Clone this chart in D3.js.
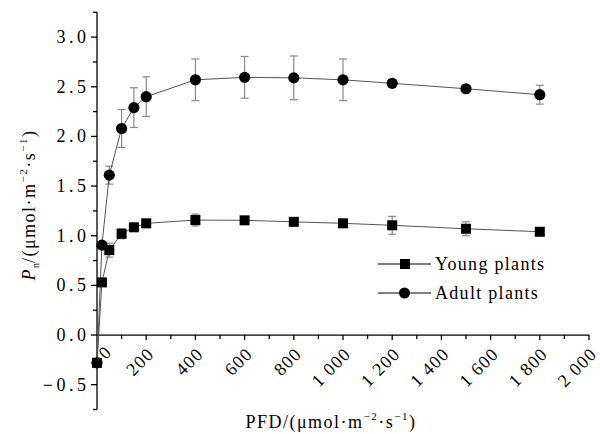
<!DOCTYPE html>
<html>
<head>
<meta charset="utf-8">
<script src="https://cdn.jsdelivr.net/npm/d3@7"></script>
<style>
  html, body { margin: 0; padding: 0; background: #fff; }
  svg { display: block; font-family: "Liberation Serif", "Times New Roman", serif; }
</style>
</head>
<body>
<svg id="chart" width="600" height="434"></svg>
<script>
// ---- data ----
const pfd = [0, 20, 50, 100, 150, 200, 400, 600, 800, 1000, 1200, 1500, 1800];
const young = [-0.28, 0.53, 0.855, 1.02, 1.085, 1.125, 1.158, 1.155, 1.14, 1.125, 1.105, 1.07, 1.04];
const youngErr = [0, 0, 0.07, 0.05, 0.04, 0.02, 0.06, 0.03, 0.02, 0.02, 0.09, 0.07, 0.02];
const adult = [-0.28, 0.905, 1.61, 2.08, 2.29, 2.40, 2.57, 2.595, 2.59, 2.57, 2.535, 2.48, 2.42];
const adultErr = [0, 0, 0.09, 0.19, 0.20, 0.20, 0.21, 0.21, 0.22, 0.21, 0.03, 0.02, 0.095];
const seriesNames = ["Young plants", "Adult plants"];
const xTickValues = [0, 200, 400, 600, 800, 1000, 1200, 1400, 1600, 1800, 2000];
const yTickValues = [-0.5, 0.0, 0.5, 1.0, 1.5, 2.0, 2.5, 3.0];

const svg = d3.select("#chart");
const x = d3.scaleLinear().domain([0, 2000]).range([97, 589]);
const y = d3.scaleLinear().domain([-0.75, 3.25]).range([409.5, 12.3]);
const x0 = x(0), y0 = y(0);

// ---- axes ----
const axG = svg.append("g").attr("stroke", "#000").attr("stroke-width", 1.3);
axG.append("line").attr("x1", x0).attr("x2", x0).attr("y1", y(3.25)).attr("y2", y(-0.75));
const yAll = d3.range(-0.75, 3.2501, 0.25);
yAll.forEach(v => {
  const major = Math.abs(Math.round(v * 2) - v * 2) < 1e-6;
  axG.append("line").attr("x1", x0).attr("x2", x0 - (major ? 6 : 4))
    .attr("y1", y(v)).attr("y2", y(v));
});
axG.append("line").attr("x1", x0).attr("x2", x(2000)).attr("y1", y0).attr("y2", y0);
d3.range(100, 2001, 100).forEach(v => {
  const major = v % 200 === 0;
  axG.append("line").attr("x1", x(v)).attr("x2", x(v))
    .attr("y1", y0).attr("y2", y0 + (major ? 5 : 4));
});

// y tick labels
svg.append("g").selectAll("text").data(yTickValues).join("text")
  .attr("x", 89.5).attr("y", d => y(d) + 6)
  .attr("text-anchor", "end")
  .attr("font-size", 18).attr("letter-spacing", "3.5px").attr("fill", "#000")
  .text(d => (d < 0 ? "\u2212" : "") + Math.abs(d).toFixed(1));

// x tick labels (rotated)
const fmtX = d => d >= 1000 ? Math.floor(d / 1000) + " " + String(d % 1000).padStart(3, "0") : String(d);
svg.append("g").selectAll("text").data(xTickValues).join("text")
  .attr("transform", d => `translate(${x(d) + (d === 0 ? 16 : 9)},${y0 + (d === 0 ? 18 : 20)}) rotate(-45)`)
  .attr("text-anchor", "end")
  .attr("font-size", 18).attr("letter-spacing", "1.2px").attr("fill", "#000")
  .text(fmtX);

// axis titles
const xt = svg.append("text").attr("x", 331).attr("y", 428).attr("text-anchor", "middle")
  .attr("font-size", 18).attr("letter-spacing", "1.5px").attr("fill", "#000");
xt.append("tspan").text("PFD/(μmol·m");
xt.append("tspan").attr("font-size", 11).attr("dy", -8).text("\u22122");
xt.append("tspan").attr("dy", 8).text("·s");
xt.append("tspan").attr("font-size", 11).attr("dy", -8).text("\u22121");
xt.append("tspan").attr("dy", 8).text(")");

const yt = svg.append("text").attr("transform", "translate(35,205) rotate(-90)")
  .attr("text-anchor", "middle").attr("font-size", 18).attr("letter-spacing", "1.5px").attr("fill", "#000");
yt.append("tspan").attr("font-style", "italic").text("P");
yt.append("tspan").attr("font-size", 10).attr("dy", 4).attr("letter-spacing", "0px").text("n");
yt.append("tspan").attr("dy", -4).text("/(μmol·m");
yt.append("tspan").attr("font-size", 11).attr("dy", -8).text("\u22122");
yt.append("tspan").attr("dy", 8).text("·s");
yt.append("tspan").attr("font-size", 11).attr("dy", -8).text("\u22121");
yt.append("tspan").attr("dy", 8).text(")");

// ---- data marks ----
const series = [
  { name: seriesNames[0], vals: young, err: youngErr, shape: "square" },
  { name: seriesNames[1], vals: adult, err: adultErr, shape: "circle" }
];
const line = d3.line().x((d, i) => x(pfd[i])).y(d => y(d));

series.forEach(s => {
  const eg = svg.append("g").attr("stroke", "#8a8a8a").attr("stroke-width", 1.2);
  s.vals.forEach((v, i) => {
    if (s.err[i] <= 0) return;
    const cx = x(pfd[i]);
    eg.append("line").attr("x1", cx).attr("x2", cx).attr("y1", y(v + s.err[i])).attr("y2", y(v - s.err[i]));
    eg.append("line").attr("x1", cx - 4).attr("x2", cx + 4).attr("y1", y(v + s.err[i])).attr("y2", y(v + s.err[i]));
    eg.append("line").attr("x1", cx - 4).attr("x2", cx + 4).attr("y1", y(v - s.err[i])).attr("y2", y(v - s.err[i]));
  });
  svg.append("path").datum(s.vals).attr("d", line)
    .attr("fill", "none").attr("stroke", "#555").attr("stroke-width", 1);
});
series.forEach(s => {
  const mg = svg.append("g").attr("fill", "#000");
  s.vals.forEach((v, i) => {
    if (s.shape === "circle") {
      mg.append("circle").attr("cx", x(pfd[i])).attr("cy", y(v)).attr("r", 5.6);
    } else {
      mg.append("rect").attr("x", x(pfd[i]) - 5).attr("y", y(v) - 5).attr("width", 10).attr("height", 10);
    }
  });
});

// ---- legend ----
const lg = svg.append("g");
series.forEach((s, k) => {
  const ly = 264 + k * 29;
  lg.append("line").attr("x1", 378).attr("x2", 431).attr("y1", ly).attr("y2", ly)
    .attr("stroke", "#000").attr("stroke-width", 1);
  if (s.shape === "circle") {
    lg.append("circle").attr("cx", 404.5).attr("cy", ly).attr("r", 5.5);
  } else {
    lg.append("rect").attr("x", 400).attr("y", ly - 5).attr("width", 10).attr("height", 10);
  }
  lg.append("text").attr("x", 435).attr("y", ly + 6).attr("font-size", 18)
    .attr("letter-spacing", "1.3px").attr("fill", "#000").text(s.name);
});
</script>
</body>
</html>
